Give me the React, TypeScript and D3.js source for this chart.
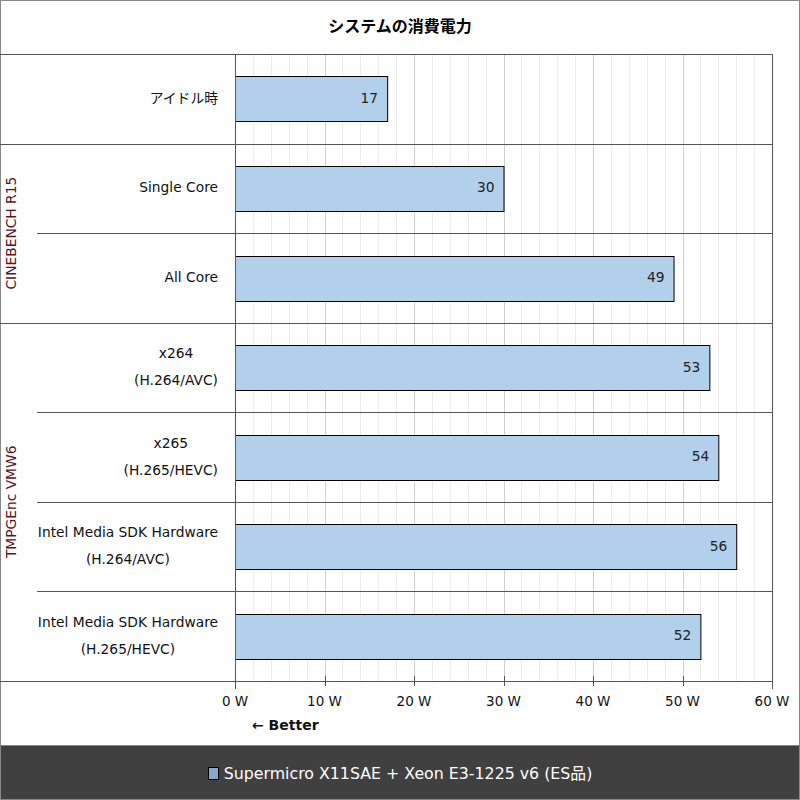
import React, { useEffect, useRef } from "react";
import * as d3 from "d3";

const title = "システムの消費電力";
const categories: string[][] = [
  ["アイドル時"],
  ["Single Core"],
  ["All Core"],
  ["x264", "(H.264/AVC)"],
  ["x265", "(H.265/HEVC)"],
  ["Intel Media SDK Hardware", "(H.264/AVC)"],
  ["Intel Media SDK Hardware", "(H.265/HEVC)"],
];
const values = [17, 30, 49, 53, 54, 56, 52];
const groups = [
  { name: "", start: 0, end: 0 },
  { name: "CINEBENCH R15", start: 1, end: 2 },
  { name: "TMPGEnc VMW6", start: 3, end: 6 },
];
const ticks = [0, 10, 20, 30, 40, 50, 60];
const seriesName = "Supermicro X11SAE + Xeon E3-1225 v6 (ES品)";
const betterLabel = "← Better";

const FONT = "'DejaVu Sans', 'Noto Sans CJK JP', sans-serif";

export default function App() {
  const ref = useRef<SVGSVGElement>(null);

  useEffect(() => {
    const svg = d3.select(ref.current);
    svg.selectAll("*").remove();
    const W = 800, H = 800;
    const left = 235, right = 772, top = 54, bottom = 681;

    const x = d3.scaleLinear().domain([0, 60]).range([left, right]);
    const y = d3
      .scaleBand<number>()
      .domain(d3.range(values.length))
      .range([top, bottom])
      .paddingInner(0)
      .paddingOuter(0);
    const bh = y.bandwidth() * 0.5;

    svg.append("rect").attr("x", 0.5).attr("y", 0.5).attr("width", W - 1).attr("height", H - 1)
      .attr("fill", "#fff").attr("stroke", "#888");

    svg.append("text").attr("x", 400).attr("y", 32).attr("text-anchor", "middle")
      .attr("font-family", FONT).attr("font-size", 16).attr("font-weight", "bold").attr("fill", "#000")
      .text(title);

    // minor grid
    const minor = d3.range(0, 61, 2);
    svg.append("g").selectAll("line").data(minor).join("line")
      .attr("x1", (d) => Math.round(x(d)) + 0.5).attr("x2", (d) => Math.round(x(d)) + 0.5)
      .attr("y1", top).attr("y2", bottom)
      .attr("stroke", (d) => (d % 10 === 0 ? "#d0d0d0" : "#ececec"));

    // bars
    svg.append("g").selectAll("rect").data(values).join("rect")
      .attr("x", x(0) + 0.5)
      .attr("y", (_, i) => Math.round(y(i)! + (y.bandwidth() - bh) / 2) + 0.5)
      .attr("width", (d) => x(d) - x(0))
      .attr("height", Math.round(bh))
      .attr("fill", "#b2cfeb").attr("stroke", "#000").attr("stroke-width", 1);

    svg.append("g").selectAll("text").data(values).join("text")
      .attr("x", (d) => x(d) - 9)
      .attr("y", (_, i) => y(i)! + y.bandwidth() / 2 + 4)
      .attr("text-anchor", "end").attr("font-family", FONT).attr("font-size", 13.8).attr("fill", "#222")
      .text((d) => String(d));

    // row separators
    const lineColor = "#555";
    for (let i = 1; i < values.length; i++) {
      const isGroupStart = groups.some((g) => g.start === i);
      const yy = Math.round(y(i)!) + 0.5;
      svg.append("line").attr("x1", isGroupStart ? 0 : 37).attr("x2", right + 1)
        .attr("y1", yy).attr("y2", yy).attr("stroke", lineColor);
    }
    svg.append("line").attr("x1", 0).attr("x2", right + 1).attr("y1", top + 0.5).attr("y2", top + 0.5).attr("stroke", lineColor);
    svg.append("line").attr("x1", 0).attr("x2", right + 1).attr("y1", bottom + 0.5).attr("y2", bottom + 0.5).attr("stroke", lineColor);
    svg.append("line").attr("x1", left + 0.5).attr("x2", left + 0.5).attr("y1", top).attr("y2", bottom + 8).attr("stroke", lineColor);
    svg.append("line").attr("x1", right + 0.5).attr("x2", right + 0.5).attr("y1", top).attr("y2", bottom + 8).attr("stroke", lineColor);

    // ticks
    svg.append("g").selectAll("line").data(ticks).join("line")
      .attr("x1", (d) => Math.round(x(d)) + 0.5).attr("x2", (d) => Math.round(x(d)) + 0.5)
      .attr("y1", bottom - 5).attr("y2", bottom + 5).attr("stroke", lineColor);
    svg.append("g").selectAll("text").data(ticks).join("text")
      .attr("x", (d) => x(d)).attr("y", bottom + 25).attr("text-anchor", "middle")
      .attr("font-family", FONT).attr("font-size", 13.5).attr("fill", "#111")
      .text((d) => `${d} W`);

    svg.append("text").attr("x", 252).attr("y", 730).attr("font-family", FONT)
      .attr("font-size", 14).attr("font-weight", "bold").attr("fill", "#111").text(betterLabel);

    // category labels
    const labelRight = 218;
    categories.forEach((lines, i) => {
      const cy = y(i)! + y.bandwidth() / 2;
      const g = svg.append("g");
      const texts = lines.map((l, k) =>
        g.append("text").attr("font-family", FONT).attr("font-size", 13.8).attr("fill", "#111")
          .attr("text-anchor", "middle")
          .attr("y", cy + (k - (lines.length - 1) / 2) * 27 + 4)
          .text(l)
      );
      const maxW = d3.max(texts, (t) => (t.node() as SVGTextElement).getComputedTextLength()) || 0;
      texts.forEach((t) => t.attr("x", labelRight - maxW / 2));
    });

    // group labels
    groups.filter((g) => g.name).forEach((g) => {
      const cy = (y(g.start)! + y(g.end)! + y.bandwidth()) / 2;
      svg.append("text").attr("transform", `translate(16,${cy}) rotate(-90)`)
        .attr("text-anchor", "middle").attr("font-family", FONT).attr("font-size", 13.8)
        .attr("fill", "#5a1020").text(g.name);
    });

    // legend band
    svg.append("rect").attr("x", 0.5).attr("y", 745.5).attr("width", W - 1).attr("height", H - 746)
      .attr("fill", "#404040").attr("stroke", "#888");
    const lg = svg.append("g");
    const lt = lg.append("text").attr("y", 779).attr("font-family", FONT).attr("font-size", 15.8)
      .attr("fill", "#fff").text(seriesName);
    const tw = (lt.node() as SVGTextElement).getComputedTextLength();
    const total = 11 + 5 + tw;
    const sx = 400 - total / 2;
    lg.append("rect").attr("x", Math.round(sx) + 0.5).attr("y", 767.5).attr("width", 10).attr("height", 12)
      .attr("fill", "#8aa8c8").attr("stroke", "#000");
    lt.attr("x", sx + 16);
  }, []);

  return (
    <svg ref={ref} width={800} height={800} style={{ position: "absolute", left: 0, top: 0, display: "block" }} />
  );
}
